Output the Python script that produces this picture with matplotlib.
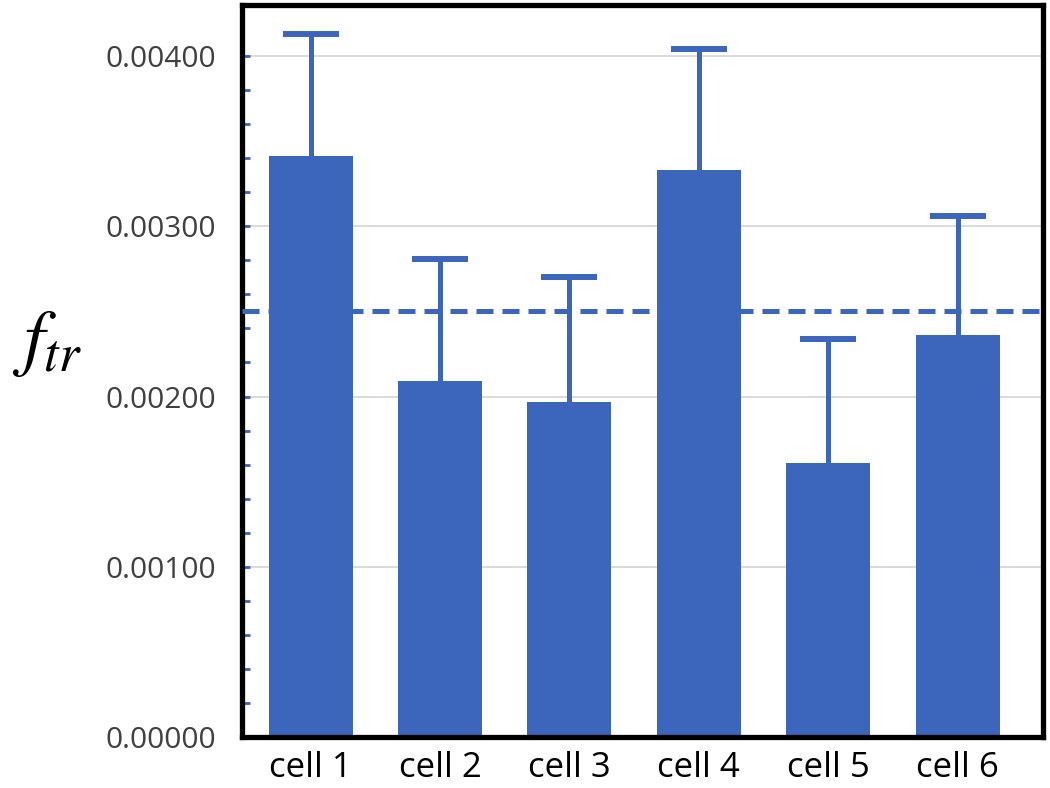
import matplotlib
matplotlib.use("Agg")
import matplotlib.pyplot as plt
import matplotlib.ticker as ticker

cells = ["cell 1", "cell 2", "cell 3", "cell 4", "cell 5", "cell 6"]
f_tr = [0.00341, 0.00209, 0.00197, 0.00333, 0.00161, 0.00236]
f_tr_upper = [0.00413, 0.00281, 0.00270, 0.00404, 0.00234, 0.00306]
reference_level = 0.0025
minor_ticks = [i * 0.0002 for i in range(21)]

blue = "#3C65BC"


def main():
    plt.rcParams["mathtext.fontset"] = "stix"
    fig = plt.figure(figsize=(10.5, 7.88), dpi=100)
    ax = fig.add_axes([0.2305, 0.0647, 0.7628, 0.929])

    x = list(range(len(cells)))
    ax.bar(x, f_tr, width=0.65, color=blue, zorder=2)
    # upper error bars only: stem plus cap
    ax.vlines(x, f_tr, f_tr_upper, color=blue, lw=3.6, zorder=3)
    ax.plot(x, f_tr_upper, ls="none", marker="_", markersize=40,
            markeredgewidth=4.3, color=blue, zorder=3)
    ax.axhline(reference_level, color=blue, lw=3.6,
               dashes=(3.4, 1.8), zorder=4)

    ax.set_xlim(-0.53, 5.66)
    ax.set_ylim(0, 0.0043)
    ax.yaxis.set_major_locator(ticker.MultipleLocator(0.001))
    ax.yaxis.set_minor_locator(ticker.FixedLocator(minor_ticks))
    ax.yaxis.set_major_formatter(ticker.FormatStrFormatter("%.5f"))
    ax.grid(axis="y", color="#D4D4D4", lw=1.2, zorder=0)

    ax.set_xticks(x)
    ax.set_xticklabels(cells, fontfamily="Open Sans", fontsize=25,
                       color="black")
    ax.tick_params(axis="x", length=0, pad=10)
    ax.tick_params(axis="y", which="both", direction="in", length=6,
                   width=2, color=blue, pad=19, labelsize=21.5,
                   labelcolor="#404040")
    for lab in ax.get_yticklabels():
        lab.set_fontfamily("Open Sans")

    for sp in ax.spines.values():
        sp.set_linewidth(3.8)
        sp.set_color("black")

    fig.text(0.045, 0.565, r"$f_{tr}$", fontsize=54, ha="center",
             va="center")

    fig.savefig("out.png", dpi=100)


if __name__ == "__main__":
    main()
